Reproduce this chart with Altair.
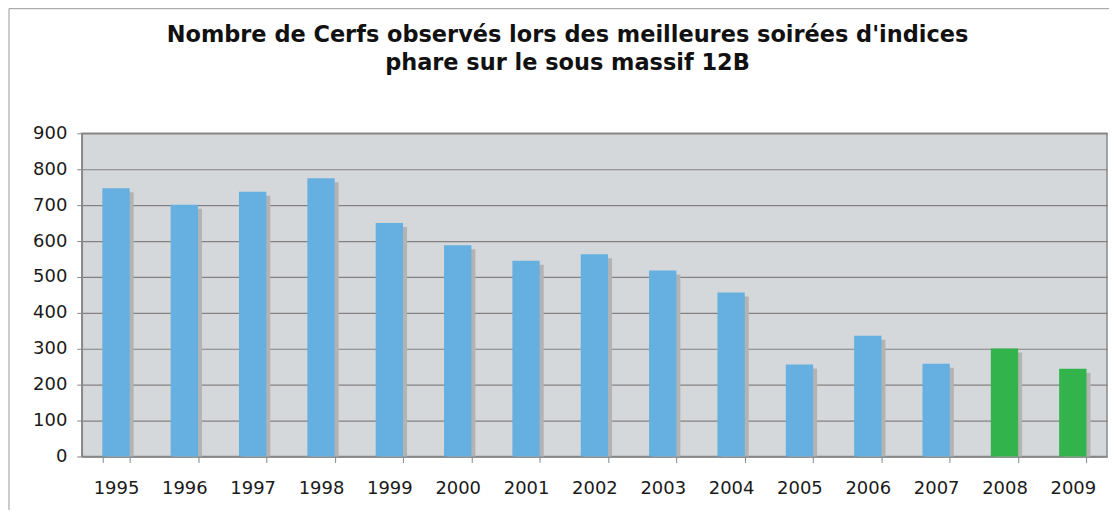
import altair as alt
import pandas as pd

annees = ["1995", "1996", "1997", "1998", "1999", "2000", "2001", "2002",
          "2003", "2004", "2005", "2006", "2007", "2008", "2009"]
cerfs = [747, 701, 737, 775, 650, 588, 545, 563, 518, 457, 256, 336, 258, 301, 244]
groupe = ["a"] * 13 + ["b"] * 2

titre = ["Nombre de Cerfs observés lors des meilleures soirées d'indices",
         "phare sur le sous massif 12B"]

df = pd.DataFrame({"annee": annees, "cerfs": cerfs, "groupe": groupe})

W, H = 1028, 324

x = alt.X("annee:N", sort=annees, title=None,
          scale=alt.Scale(paddingInner=0.6, paddingOuter=0.3),
          axis=alt.Axis(labelAngle=0, labelFont="DejaVu Sans", labelFontSize=18,
                        labelColor="#1a1a1a", labelPadding=17, tickBand="extent",
                        tickSize=6, tickColor="#7a8a90", domainColor="#888888",
                        domainWidth=1.5))
y = alt.Y("cerfs:Q", title=None,
          scale=alt.Scale(domain=[0, 900]),
          axis=alt.Axis(values=list(range(0, 901, 100)), labelFont="DejaVu Sans",
                        labelFontSize=18, labelColor="#1a1a1a", labelPadding=10,
                        tickSize=5, tickColor="#7a8a90", domainColor="#888888",
                        domainWidth=1.5, grid=True, gridColor="#848080",
                        gridWidth=1.2))

base = alt.Chart(df)

ombre = base.mark_bar(color="#b3b3b3", xOffset=4, yOffset=4, clip=True).encode(
    x=x, y=y)

barres = base.mark_bar().encode(
    x=x, y=y,
    color=alt.Color("groupe:N", legend=None,
                    scale=alt.Scale(domain=["a", "b"], range=["#65b0e1", "#33b34c"])))

cadre = alt.Chart(pd.DataFrame({"k": [0]}))
cadre_g = cadre.mark_rule(color="#9a9a9a", strokeWidth=1).encode(
    x=alt.value(-73), y=alt.value(-125), y2=alt.value(H + 60))
cadre_h = cadre.mark_rule(color="#9a9a9a", strokeWidth=1).encode(
    x=alt.value(-73), x2=alt.value(W + 10), y=alt.value(-125))

chart = alt.layer(ombre, barres, cadre_g, cadre_h).properties(
    width=W, height=H,
    title=alt.TitleParams(text=titre, font="DejaVu Sans", fontSize=22.5,
                          fontWeight="bold", color="#111111", anchor="middle",
                          dx=-27, offset=-66, lineHeight=28),
    autosize=alt.AutoSizeParams(type="none"),
    padding={"left": 74, "top": 125, "right": 2, "bottom": 53},
    background="white",
).configure_view(fill="#d5d8db", stroke="#8a8a8a", strokeWidth=1.5)

chart.save("out.html", embed_options={"renderer": "svg", "actions": False})
